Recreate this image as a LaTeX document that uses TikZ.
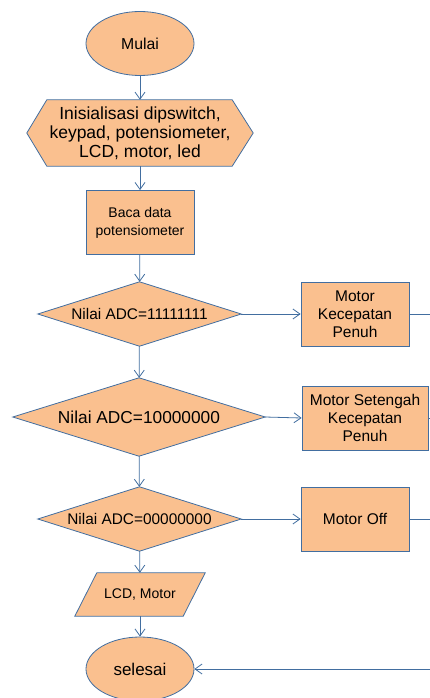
\documentclass[tikz,border=0pt]{standalone}
\usepackage{fontspec}
\setmainfont{Liberation Sans}
\definecolor{flowfill}{RGB}{250, 192, 143}
\definecolor{flowline}{RGB}{66, 110, 160}
\usetikzlibrary{shapes, arrows.meta, positioning, calc, backgrounds}

\tikzset{
  base/.style={draw=flowline, fill=flowfill, line width=0.8pt, inner sep=1pt, align=center, text=black},
  terminal/.style={base, ellipse, minimum width=108pt, minimum height=64pt},
  process/.style={base, rectangle, minimum width=108pt, minimum height=64pt},
  decision/.style={align=center, minimum width=203pt, minimum height=64pt, inner sep=0pt},
  flow/.style={draw=flowline, line width=0.8pt, -{Straight Barb[length=7pt, width=10pt]}},
  link/.style={draw=flowline, line width=0.8pt},
}

\begin{document}
\begin{tikzpicture}
  \useasboundingbox (0,0) rectangle (430pt,-698pt);

  % main column
  \node[terminal, font=\fontsize{15.8}{18}\selectfont] (mulai) at (140pt,-43.5pt) {Mulai};
  \node[align=center, minimum width=226pt, minimum height=66pt, inner sep=0pt,
        font=\fontsize{17.5}{19}\selectfont] (init) at (140pt,-133pt)
        {Inisialisasi dipswitch,\\ keypad, potensiometer,\\ LCD, motor, led};
  \node[process, font=\fontsize{14}{18}\selectfont] (baca) at (140pt,-222.5pt) {Baca data\\ potensiometer};
  \node[decision, font=\fontsize{15.4}{18}\selectfont] (cek1) at (139.5pt,-314pt) {Nilai ADC=11111111};
  \node[decision, minimum width=252pt, minimum height=78pt, font=\fontsize{17.3}{19}\selectfont] (cek2) at (139pt,-417pt) {Nilai ADC=10000000};
  \node[decision, font=\fontsize{15.4}{18}\selectfont] (cek3) at (139.5pt,-519pt) {Nilai ADC=00000000};
  \node[align=center, minimum width=108pt, minimum height=43pt, inner sep=0pt,
        font=\fontsize{14}{17}\selectfont] (tampil) at (140pt,-594.5pt) {LCD, Motor};
  \node[terminal, font=\fontsize{17}{19}\selectfont] (selesai) at (140pt,-669pt) {selesai};

  % motor actions
  \node[process, font=\fontsize{15.5}{18}\selectfont] (penuh) at (355pt,-314pt) {Motor\\ Kecepatan\\ Penuh};
  \node[process, minimum width=126pt, font=\fontsize{15.5}{18}\selectfont] (setengah) at (365pt,-418pt) {Motor Setengah\\ Kecepatan\\ Penuh};
  \node[process, font=\fontsize{15.5}{18}\selectfont] (off) at (355pt,-519pt) {Motor Off};

  % outlines of hexagon, diamonds and parallelogram
  \begin{scope}[on background layer]
    \draw[base] (init.west) -- ([xshift=20pt]init.north west) -- ([xshift=-21pt]init.north east)
      -- (init.east) -- ([xshift=-21pt]init.south east) -- ([xshift=20pt]init.south west) -- cycle;
    \foreach \n in {cek1, cek2, cek3}
      \draw[base] (\n.north) -- (\n.east) -- (\n.south) -- (\n.west) -- cycle;
    \draw[base] ([xshift=11pt]tampil.north west) -- ([xshift=11pt]tampil.north east)
      -- ([xshift=-11pt]tampil.south east) -- ([xshift=-11pt]tampil.south west) -- cycle;
  \end{scope}

  \coordinate (keluar1) at (430pt,-314pt);
  \coordinate (keluar2) at (430pt,-418pt);
  \coordinate (keluar3) at (430pt,-519pt);
  \coordinate (balik) at (430pt,-669pt);

  \draw[flow] (mulai) -- (init);
  \draw[flow] (init) -- (baca);
  \draw[flow] (baca) -- (cek1);
  \draw[flow] (cek1) -- (cek2);
  \draw[flow] (cek2) -- (cek3);
  \draw[flow] (cek3) -- (tampil);
  \draw[flow] (tampil) -- (selesai);

  \draw[flow] (cek1.east) -- (penuh.west);
  \draw[flow] (cek2.east) -- (setengah.west);
  \draw[flow] (cek3.east) -- (off.west);
  \draw[link] (penuh.east) -- (keluar1);
  \draw[link] (setengah.east) -- (keluar2);
  \draw[link] (off.east) -- (keluar3);
  \draw[flow] (balik) -- (selesai.east);
\end{tikzpicture}
\end{document}
